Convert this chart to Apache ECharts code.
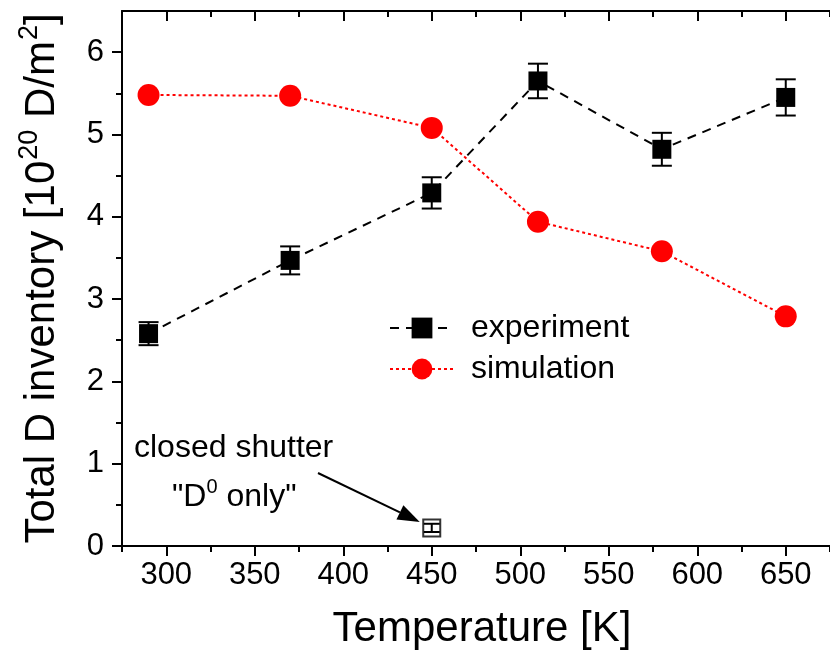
<!DOCTYPE html>
<html>
<head>
<meta charset="utf-8">
<script src="https://cdn.jsdelivr.net/npm/echarts@6/dist/echarts.min.js"></script>
<style>
html,body{margin:0;padding:0;background:#fff;}
#main{width:830px;height:657px;}
</style>
</head>
<body>
<div id="main"></div>
<script>
// ---- data ----
var temperatures = [290, 370, 450, 510, 580, 650];
var experiment = [2.58, 3.47, 4.29, 5.65, 4.82, 5.45];
var experimentErr = [0.14, 0.17, 0.19, 0.21, 0.20, 0.22];
var simulation = [5.48, 5.47, 5.08, 3.94, 3.58, 2.79];
var shutterT = [450];
var shutterVal = [0.22];
var shutterErr = [0.05];
var xMajorTicks = [300, 350, 400, 450, 500, 550, 600, 650];
var xMinorTicks = [275, 325, 375, 425, 475, 525, 575, 625, 675];
var yMajorTicks = [0, 1, 2, 3, 4, 5, 6];
var yMinorTicks = [0.5, 1.5, 2.5, 3.5, 4.5, 5.5];

var FONT = 'Liberation Sans, Arial, Helvetica, sans-serif';

var expData = temperatures.map(function (t, i) { return [t, experiment[i]]; });
var simData = temperatures.map(function (t, i) { return [t, simulation[i]]; });
var expErrData = temperatures.map(function (t, i) { return [t, experiment[i] - experimentErr[i], experiment[i] + experimentErr[i]]; });
var shutData = shutterT.map(function (t, i) { return [t, shutterVal[i]]; });
var shutErrData = shutterT.map(function (t, i) { return [t, shutterVal[i] - shutterErr[i], shutterVal[i] + shutterErr[i]]; });

function errRender(capHalf) {
  return function (params, api) {
    var x = api.value(0), lo = api.value(1), hi = api.value(2);
    var pHi = api.coord([x, hi]);
    var pLo = api.coord([x, lo]);
    var st = { stroke: '#000', lineWidth: 2 };
    return {
      type: 'group',
      children: [
        { type: 'line', shape: { x1: pHi[0], y1: pHi[1], x2: pLo[0], y2: pLo[1] }, style: st },
        { type: 'line', shape: { x1: pHi[0] - capHalf, y1: pHi[1], x2: pHi[0] + capHalf, y2: pHi[1] }, style: st },
        { type: 'line', shape: { x1: pLo[0] - capHalf, y1: pLo[1], x2: pLo[0] + capHalf, y2: pLo[1] }, style: st }
      ]
    };
  };
}

var axisLineStyle = { color: '#000', width: 2 };

var chart = echarts.init(document.getElementById('main'), null, { renderer: 'canvas' });
var option = {
  animation: false,
  backgroundColor: '#fff',
  grid: { left: 122, right: -12, top: 11, bottom: 111, containLabel: false },
  xAxis: [
    {
      type: 'value', min: 275, max: 675, position: 'bottom',
      axisLine: { show: true, lineStyle: axisLineStyle },
      axisTick: { show: true, inside: false, length: 10, lineStyle: { color: '#000', width: 2 }, customValues: xMajorTicks },
      axisLabel: { show: true, margin: 14, color: '#000', fontSize: 31, fontFamily: FONT, customValues: xMajorTicks },
      splitLine: { show: false },
      name: 'Temperature [K]', nameLocation: 'middle', nameGap: 62,
      nameTextStyle: { color: '#000', fontSize: 42, fontFamily: FONT, padding: [0, 0, 0, 12] }
    },
    {
      type: 'value', min: 275, max: 675, position: 'bottom',
      axisLine: { show: false },
      axisTick: { show: true, inside: false, length: 6, lineStyle: { color: '#000', width: 2 }, customValues: xMinorTicks },
      axisLabel: { show: false },
      splitLine: { show: false }
    },
    {
      type: 'value', min: 275, max: 675, position: 'top',
      axisLine: { show: true, lineStyle: axisLineStyle },
      axisTick: { show: true, inside: true, length: 10, lineStyle: { color: '#000', width: 2 }, customValues: xMajorTicks },
      axisLabel: { show: false },
      splitLine: { show: false }
    },
    {
      type: 'value', min: 275, max: 675, position: 'top',
      axisLine: { show: false },
      axisTick: { show: true, inside: true, length: 6, lineStyle: { color: '#000', width: 2 }, customValues: xMinorTicks },
      axisLabel: { show: false },
      splitLine: { show: false }
    }
  ],
  yAxis: [
    {
      type: 'value', min: 0, max: 6.5, position: 'left',
      axisLine: { show: true, lineStyle: axisLineStyle },
      axisTick: { show: true, inside: false, length: 10, lineStyle: { color: '#000', width: 2 }, customValues: yMajorTicks },
      axisLabel: { show: true, margin: 18, color: '#000', fontSize: 31, fontFamily: FONT, customValues: yMajorTicks },
      splitLine: { show: false },
      name: '{a|Total D inventory [10}{s|20}{a| D/m}{s|2}{a|]}',
      nameLocation: 'middle', nameGap: 59, nameRotate: 90,
      nameTextStyle: {
        color: '#000', fontFamily: FONT,
        rich: {
          a: { fontSize: 42, fontFamily: FONT, color: '#000', lineHeight: 47, verticalAlign: 'bottom' },
          s: { fontSize: 27, fontFamily: FONT, color: '#000', lineHeight: 47, verticalAlign: 'top', padding: [0, 0, 0, 1] }
        }
      }
    },
    {
      type: 'value', min: 0, max: 6.5, position: 'left',
      axisLine: { show: false },
      axisTick: { show: true, inside: false, length: 6, lineStyle: { color: '#000', width: 2 }, customValues: yMinorTicks },
      axisLabel: { show: false },
      splitLine: { show: false }
    }
  ],
  legend: {
    orient: 'vertical', left: 384, top: 307,
    itemWidth: 64, itemHeight: 26, itemGap: 9,
    data: ['experiment', 'simulation'],
    textStyle: { color: '#000', fontSize: 32, fontFamily: FONT, padding: [0, 0, 0, 12] }
  },
  series: [
    {
      name: 'experiment-err', type: 'custom', xAxisIndex: 0, yAxisIndex: 0,
      renderItem: errRender(10), data: expErrData, z: 3, silent: true,
      encode: { x: 0, y: [1, 2] }
    },
    {
      name: 'experiment', type: 'line', xAxisIndex: 0, yAxisIndex: 0,
      data: expData, symbol: 'rect', symbolSize: 19,
      itemStyle: { color: '#000' },
      lineStyle: { color: '#000', width: 2, type: [9, 7] },
      z: 4
    },
    {
      name: 'simulation', type: 'line', xAxisIndex: 0, yAxisIndex: 0,
      data: simData, symbol: 'circle', symbolSize: 22,
      itemStyle: { color: '#ff0000' },
      lineStyle: { color: '#ff0000', width: 2, type: [3, 3] },
      z: 5
    },
    {
      name: 'closed shutter', type: 'scatter', xAxisIndex: 0, yAxisIndex: 0,
      data: shutData, symbol: 'rect', symbolSize: 17,
      itemStyle: { color: '#fff', borderColor: '#000', borderWidth: 2 },
      z: 4
    },
    {
      name: 'closed-err', type: 'custom', xAxisIndex: 0, yAxisIndex: 0,
      renderItem: errRender(8), data: shutErrData, z: 6, silent: true,
      encode: { x: 0, y: [1, 2] }
    }
  ]
};
chart.setOption(option);

// annotation: text + arrow pointing to the closed-shutter point
var tip = chart.convertToPixel({ xAxisIndex: 0, yAxisIndex: 0 }, [shutterT[0], shutterVal[0]]);
var tipX = tip[0] - 12, tipY = tip[1] - 6;
var startX = 318, startY = 473;
var ang = Math.atan2(tipY - startY, tipX - startX);
var headLen = 22, headHalf = 8;
var bx = tipX - headLen * Math.cos(ang), by = tipY - headLen * Math.sin(ang);
var nx = -Math.sin(ang), ny = Math.cos(ang);
chart.setOption({
  graphic: [
    {
      type: 'text', left: 134, top: 432,
      style: { text: 'closed shutter', fill: '#000', font: '32px ' + FONT }
    },
    {
      type: 'text', left: 172, top: 477,
      style: {
        text: '{a|"D}{s|0}{a| only"}',
        rich: {
          a: { fontSize: 32, fontFamily: FONT, fill: '#000', lineHeight: 36, verticalAlign: 'bottom' },
          s: { fontSize: 20, fontFamily: FONT, fill: '#000', lineHeight: 36, verticalAlign: 'top' }
        }
      }
    },
    {
      type: 'line', shape: { x1: startX, y1: startY, x2: bx, y2: by },
      style: { stroke: '#000', lineWidth: 2 }, z: 10
    },
    {
      type: 'polygon',
      shape: { points: [[tipX, tipY], [bx + nx * headHalf, by + ny * headHalf], [bx - nx * headHalf, by - ny * headHalf]] },
      style: { fill: '#000' }, z: 10
    }
  ]
});
</script>
</body>
</html>
